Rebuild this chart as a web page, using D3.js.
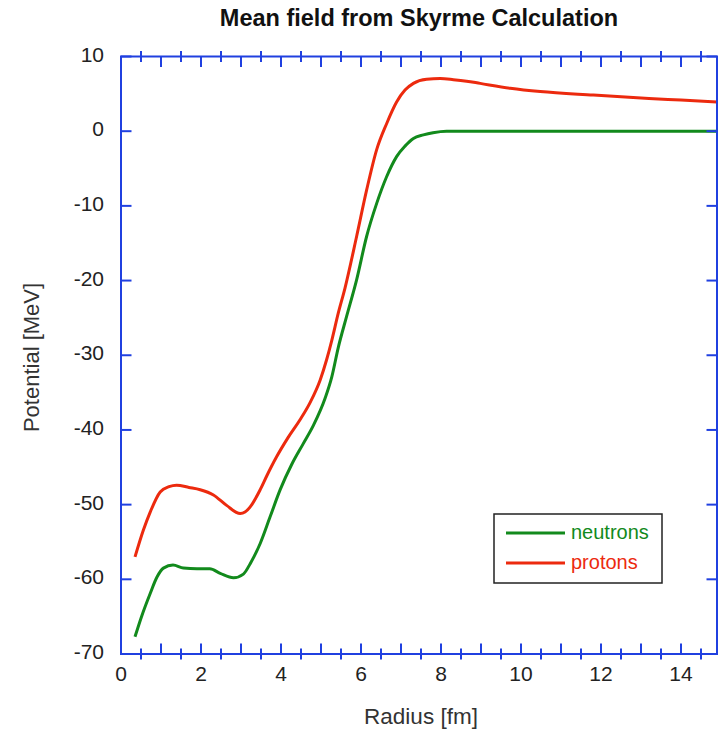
<!DOCTYPE html>
<html><head><meta charset="utf-8">
<script src="https://cdn.jsdelivr.net/npm/d3@7"></script>
<style>
html,body{margin:0;padding:0;background:#fff;}
text{font-family:"Liberation Sans",Arial,Helvetica,sans-serif;}
</style></head>
<body>
<svg id="chart" width="719" height="731"></svg>
<script>
const title = "Mean field from Skyrme Calculation";
const xLabel = "Radius [fm]";
const yLabel = "Potential [MeV]";
const xTickLabels = [0, 2, 4, 6, 8, 10, 12, 14];
const xMajorTicks = [0,1,2,3,4,5,6,7,8,9,10,11,12,13,14];
const xMinorTicks = [0.5,1.5,2.5,3.5,4.5,5.5,6.5,7.5,8.5,9.5,10.5,11.5,12.5,13.5,14.5];
const yTicks = [-70, -60, -50, -40, -30, -20, -10, 0, 10];
const seriesNames = ["neutrons", "protons"];
const seriesColors = ["#128a1c", "#ec2a0e"];

const neutronR = [0.35,0.5,0.73,0.9,1.06,1.3,1.56,1.9,2.22,2.48,2.81,3.06,3.23,3.48,3.73,3.98,4.27,4.55,4.81,5.1,5.27,5.43,5.64,5.89,6.14,6.39,6.64,6.89,7.1,7.31,7.56,7.8,8.14,9,10,11,12,13,14,14.9];
const neutronV = [-67.7,-65.2,-61.9,-59.7,-58.5,-58.1,-58.5,-58.6,-58.6,-59.2,-59.8,-59.3,-57.9,-55.2,-51.6,-48.0,-44.6,-41.9,-39.4,-35.8,-32.9,-29.0,-24.8,-19.9,-14.1,-9.7,-6.1,-3.4,-2.0,-0.97,-0.5,-0.2,0,0,0,0,0,0,0,0];

const protonR = [0.35,0.56,0.73,0.98,1.2,1.39,1.7,1.98,2.31,2.64,2.98,3.1,3.23,3.48,3.64,3.89,4.18,4.48,4.73,4.98,5.14,5.27,5.43,5.6,5.89,6.14,6.39,6.64,6.89,7.1,7.31,7.64,7.98,8.31,8.64,8.98,9.73,10.48,11.81,13.2,14,14.9];
const protonV = [-57.0,-53.4,-51.0,-48.3,-47.6,-47.4,-47.7,-48.0,-48.7,-50.1,-51.2,-51.0,-50.3,-48.0,-46.2,-43.6,-41.0,-38.6,-36.3,-33.3,-30.6,-28.0,-24.4,-21.0,-14.1,-7.9,-2.5,1.0,3.9,5.5,6.4,6.95,7.04,6.9,6.7,6.4,5.75,5.3,4.83,4.39,4.16,3.9];

const svg = d3.select("#chart");
const L = 121, R = 717, T = 56.5, B = 654;
const x = d3.scaleLinear().domain([0, 14.9]).range([L, R]);
const y = d3.scaleLinear().domain([-70, 10]).range([B, T]);
const axisColor = "#2040e0";

svg.append("defs").append("clipPath").attr("id","clip")
  .append("rect").attr("x",L).attr("y",T).attr("width",R-L).attr("height",B-T);

// curves
const line = d3.line().x(d=>x(d[0])).y(d=>y(d[1])).curve(d3.curveMonotoneX);
const series = [d3.zip(neutronR, neutronV), d3.zip(protonR, protonV)];
svg.append("g").attr("clip-path","url(#clip)").selectAll("path").data(series).join("path")
  .attr("d", line).attr("fill","none").attr("stroke",(d,i)=>seriesColors[i]).attr("stroke-width",3);

// frame
const ax = svg.append("g").attr("stroke", axisColor).attr("stroke-width", 2).attr("fill","none");
ax.append("rect").attr("x",L).attr("y",T).attr("width",R-L).attr("height",B-T);
ax.selectAll(".xb").data(xMajorTicks).join("line").attr("x1",d=>x(d)).attr("x2",d=>x(d)).attr("y1",B).attr("y2",B-10.5);
ax.selectAll(".xt").data(xMajorTicks).join("line").attr("x1",d=>x(d)).attr("x2",d=>x(d)).attr("y1",T).attr("y2",T+10.5);
ax.selectAll(".xbm").data(xMinorTicks).join("line").attr("x1",d=>x(d)).attr("x2",d=>x(d)).attr("y1",B-5.5).attr("y2",B+5.5);
ax.selectAll(".xtm").data(xMinorTicks).join("line").attr("x1",d=>x(d)).attr("x2",d=>x(d)).attr("y1",T-5.5).attr("y2",T+5.5);
ax.selectAll(".yl").data(yTicks).join("line").attr("x1",L).attr("x2",L+10.5).attr("y1",d=>y(d)).attr("y2",d=>y(d));
ax.selectAll(".yr").data(yTicks).join("line").attr("x1",R).attr("x2",R-10.5).attr("y1",d=>y(d)).attr("y2",d=>y(d));

// tick labels
svg.append("g").selectAll("text").data(xTickLabels).join("text")
  .attr("x",d=>x(d)).attr("y",681).attr("text-anchor","middle")
  .attr("font-size",21).attr("fill","#222").text(d=>d);
svg.append("g").selectAll("text").data(yTicks).join("text")
  .attr("x",104).attr("y",d=>y(d)+5).attr("text-anchor","end")
  .attr("font-size",21).attr("fill","#222").text(d=>d);

// titles
svg.append("text").attr("x",419).attr("y",26).attr("text-anchor","middle")
  .attr("font-size",23.5).attr("font-weight","bold").attr("fill","#111").text(title);
svg.append("text").attr("x",421).attr("y",724).attr("text-anchor","middle")
  .attr("font-size",22.5).attr("fill","#333").text(xLabel);
svg.append("text").attr("transform","translate(39,357.5) rotate(-90)").attr("text-anchor","middle")
  .attr("font-size",22).attr("fill","#333").text(yLabel);

// legend
const lg = svg.append("g");
lg.append("rect").attr("x",494).attr("y",514).attr("width",168).attr("height",69)
  .attr("fill","#fff").attr("stroke","#222").attr("stroke-width",1.5);
seriesNames.forEach((n,i)=>{
  const yy = 533 + i*30;
  lg.append("line").attr("x1",506).attr("x2",565).attr("y1",yy).attr("y2",yy)
    .attr("stroke",seriesColors[i]).attr("stroke-width",3);
  lg.append("text").attr("x",571).attr("y",yy+5.5).attr("font-size",20)
    .attr("fill",seriesColors[i]).text(n);
});
</script>
</body></html>
